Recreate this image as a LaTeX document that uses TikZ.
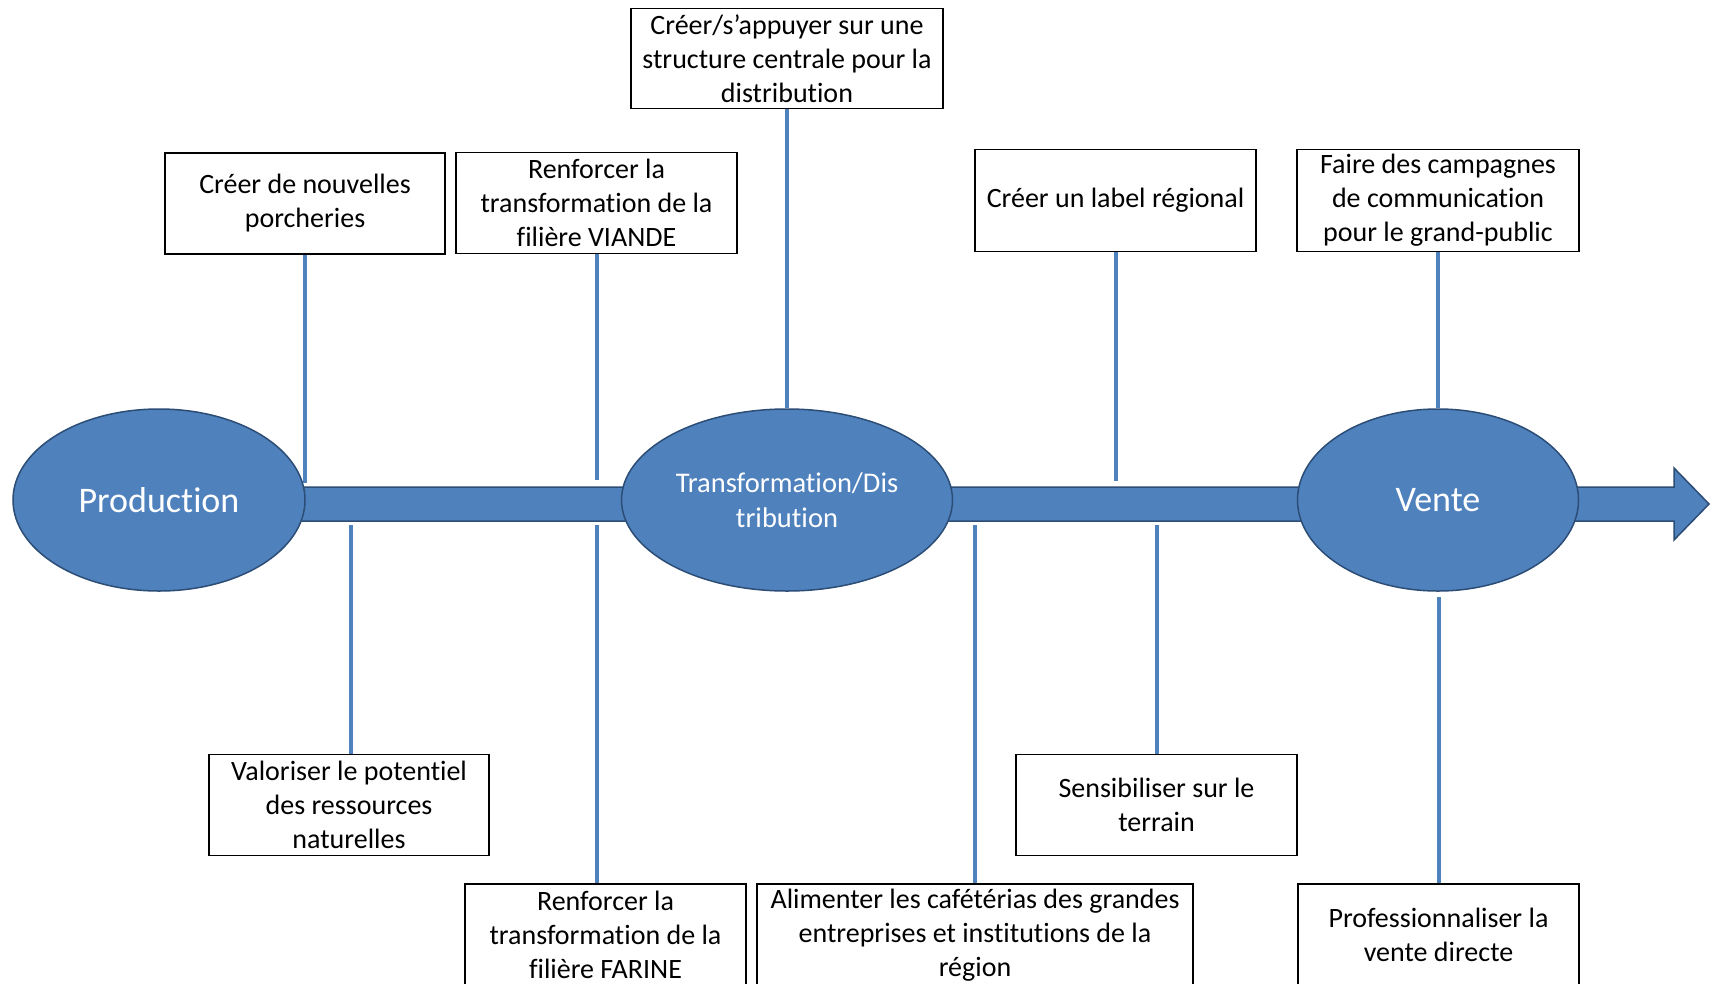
\documentclass[tikz,border=0pt]{standalone}
\usepackage{fontspec}
\setmainfont{Carlito}[Ligatures=NoCommon]
\usetikzlibrary{shapes.geometric}
\definecolor{ofblue}{HTML}{4F81BD}
\definecolor{ofdark}{HTML}{2C4D75}
\begin{document}
\begin{tikzpicture}[x=1pt,y=-1pt,
  box/.style={draw=black, line width=1.3pt, fill=white, rectangle, inner sep=0pt, align=center, font=\fontsize{28}{34}\selectfont},
  oval/.style={ellipse, draw=ofdark, line width=1.5pt, fill=ofblue, text=white, inner sep=0pt, align=center, minimum height=182pt},
  conn/.style={draw=ofblue, line width=4pt},
  shaft/.style={fill=ofblue, draw=ofdark, line width=1.5pt}]
\useasboundingbox (0,0) rectangle (1712,983);
\fill[white] (0,0) rectangle (1712,983);
% main arrow
\draw[shaft] (300,487) -- (1674,487) -- (1674,468) -- (1709,504) -- (1674,540) -- (1674,521) -- (300,521) -- cycle;
% stages
\node[oval, minimum width=292pt, font=\fontsize{36}{42}\selectfont] (prod) at (159,500) {Production};
\node[oval, minimum width=331pt, font=\fontsize{28.5}{35}\selectfont] (trans) at (787,500) {Transformation/Dis\\tribution};
\node[oval, minimum width=281pt, font=\fontsize{36}{42}\selectfont] (vente) at (1438,500) {Vente};
% boxes
\node[box, minimum width=280pt, minimum height=101pt] (b1) at (305,203.5) {Créer de nouvelles\\porcheries};
\node[box, minimum width=281pt, minimum height=101pt] (b2) at (596.5,203) {Renforcer la\\transformation de la\\filière VIANDE};
\node[box, minimum width=312pt, minimum height=100pt] (b3) at (787,58.5) {Créer/s’appuyer sur une\\structure centrale pour la\\distribution};
\node[box, minimum width=281pt, minimum height=102pt] (b4) at (1115.5,200.5) {Créer un label régional};
\node[box, minimum width=282pt, minimum height=102pt] (b5) at (1438,200.5) {Faire des campagnes\\de communication\\pour le grand-public};
\node[box, minimum width=280pt, minimum height=101pt] (b6) at (349,805) {Valoriser le potentiel\\des ressources\\naturelles};
\node[box, minimum width=281pt, minimum height=102pt] (b7) at (605.5,935) {Renforcer la\\transformation de la\\filière FARINE};
\node[box, minimum width=436pt, minimum height=102pt] (b8) at (975,935) {Alimenter les cafétérias des grandes\\entreprises et institutions de la\\région};
\node[box, minimum width=281pt, minimum height=101pt] (b9) at (1156.5,805) {Sensibiliser sur le\\terrain};
\node[box, minimum width=281pt, minimum height=102pt] (b10) at (1438.5,935) {Professionnaliser la\\vente directe};
% connector ends
\coordinate (e1) at (305,483);
\coordinate (e2) at (596.5,480);
\coordinate (e4) at (1115.5,481);
\coordinate (e6) at (351,525);
\coordinate (e7) at (597,525);
\coordinate (e8) at (975,525);
\coordinate (e9) at (1156.5,525);
\coordinate (e10) at (1438.5,597);
% connectors
\draw[conn] (b1) -- (e1);
\draw[conn] (b2) -- (e2);
\draw[conn] (b3) -- (trans);
\draw[conn] (b4) -- (e4);
\draw[conn] (b5) -- (vente);
\draw[conn] (e6) -- (e6 |- b6.north);
\draw[conn] (e7) -- (e7 |- b7.north);
\draw[conn] (e8) -- (b8);
\draw[conn] (e9) -- (b9);
\draw[conn] (e10) -- (b10);
\end{tikzpicture}
\end{document}
